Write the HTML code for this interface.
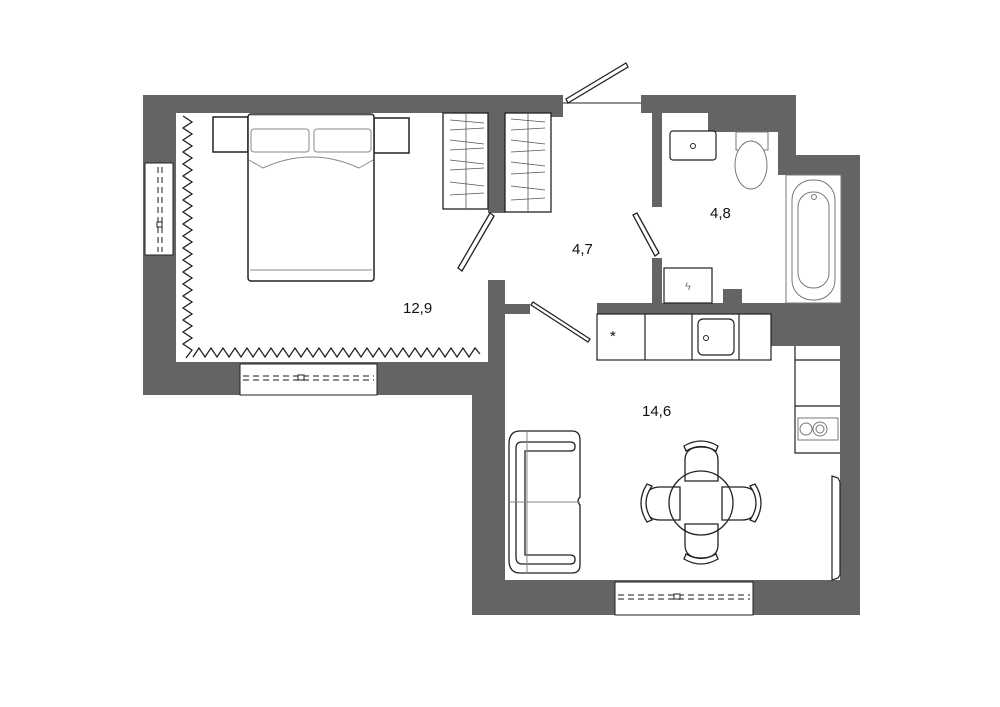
<!DOCTYPE html>
<html><head><meta charset="utf-8"><style>
html,body{margin:0;padding:0;background:#fff}
svg{display:block}
text{font-family:"Liberation Sans",sans-serif;font-size:15px;fill:#111}
</style></head><body>
<svg width="1000" height="707" viewBox="0 0 1000 707" xmlns="http://www.w3.org/2000/svg">
<g fill="#646464">
<!-- bedroom walls -->
<rect x="143" y="95" width="420" height="18"/>
<rect x="545" y="95" width="18" height="22"/>
<rect x="143" y="95" width="33" height="300"/>
<rect x="143" y="362" width="362" height="33"/>
<rect x="488" y="113" width="17" height="100"/>
<rect x="488" y="280" width="17" height="115"/>
<rect x="505" y="304" width="25" height="10"/>
<!-- living -->
<rect x="472" y="362" width="33" height="253"/>
<rect x="472" y="580" width="388" height="35"/>
<rect x="840" y="155" width="20" height="460"/>
<!-- bathroom -->
<rect x="641" y="95" width="155" height="18"/>
<rect x="708" y="113" width="88" height="19"/>
<rect x="778" y="113" width="18" height="62"/>
<rect x="778" y="155" width="82" height="20"/>
<rect x="641" y="95" width="21" height="18"/>
<rect x="652" y="113" width="10" height="94"/>
<rect x="652" y="258" width="10" height="46"/>
<rect x="597" y="303" width="244" height="11"/>
<rect x="771" y="303" width="70" height="43"/>
<rect x="723" y="289" width="19" height="15"/>
</g>
<!-- windows -->
<g fill="#fff" stroke="#222" stroke-width="1">
<rect x="145" y="163" width="28" height="92"/>
<rect x="240" y="364" width="137" height="31"/>
<rect x="615" y="582" width="138" height="33"/>
</g>
<g stroke="#666" stroke-width="1.5" stroke-dasharray="6,4">
<line x1="158" y1="167" x2="158" y2="252"/><line x1="162" y1="167" x2="162" y2="252"/>
<line x1="243" y1="376" x2="374" y2="376"/><line x1="243" y1="380" x2="374" y2="380"/>
<line x1="618" y1="595" x2="750" y2="595"/><line x1="618" y1="599" x2="750" y2="599"/>
</g>
<g fill="#fff" stroke="#222" stroke-width="1">
<rect x="157" y="222" width="5" height="5"/><rect x="298" y="375" width="6" height="5"/><rect x="674" y="594" width="6" height="5"/>
</g>
<!-- curtains -->
<g fill="none" stroke="#222" stroke-width="1.3">
<polyline points="183,116 192,122 183,128 192,134 183,140 192,146 183,152 192,158 183,164 192,170 183,176 192,182 183,188 192,194 183,200 192,206 183,212 192,218 183,224 192,230 183,236 192,242 183,248 192,254 183,260 192,266 183,272 192,278 183,284 192,290 183,296 192,302 183,308 192,314 183,320 192,326 183,332 192,338 183,344 192,350 186,358"/>
<polyline points="193,357 199,348 205,357 211,348 217,357 223,348 229,357 235,348 241,357 247,348 253,357 259,348 265,357 271,348 277,357 283,348 289,357 295,348 301,357 307,348 313,357 319,348 325,357 331,348 337,357 343,348 349,357 355,348 361,357 367,348 373,357 379,348 385,357 391,348 397,357 403,348 409,357 415,348 421,357 427,348 433,357 439,348 445,357 451,348 457,357 463,348 469,357 475,348 480,354"/>
</g>
<!-- bed -->
<g fill="#fff" stroke="#222" stroke-width="1.5">
<rect x="213" y="117" width="35" height="35"/>
<rect x="374" y="118" width="35" height="35"/>
<rect x="248" y="114" width="126" height="167" rx="3"/>
</g>
<g fill="none" stroke="#888" stroke-width="1">
<rect x="251" y="129" width="58" height="23" rx="3"/><rect x="314" y="129" width="57" height="23" rx="3"/>
<path d="M249 160 L263 168 Q311 146 359 168 L373 160"/>
<line x1="250" y1="270" x2="372" y2="270"/><line x1="250" y1="115" x2="372" y2="115"/>
</g>
<!-- wardrobes -->
<g fill="#fff" stroke="#222" stroke-width="1.3">
<rect x="443" y="113" width="45" height="96"/>
<rect x="505" y="113" width="46" height="99"/>
</g>
<g stroke="#555" stroke-width="0.8">
<line x1="450" y1="120" x2="484" y2="123"/><line x1="450" y1="130" x2="484" y2="128"/><line x1="450" y1="140" x2="484" y2="144"/><line x1="450" y1="150" x2="484" y2="148"/><line x1="450" y1="160" x2="484" y2="164"/><line x1="450" y1="170" x2="484" y2="168"/><line x1="450" y1="182" x2="484" y2="186"/><line x1="450" y1="195" x2="484" y2="193"/>
<line x1="511" y1="119" x2="545" y2="122"/><line x1="511" y1="130" x2="545" y2="128"/><line x1="511" y1="140" x2="545" y2="144"/><line x1="511" y1="152" x2="545" y2="150"/><line x1="511" y1="162" x2="545" y2="166"/><line x1="511" y1="174" x2="545" y2="172"/><line x1="511" y1="186" x2="545" y2="190"/><line x1="511" y1="200" x2="545" y2="198"/>
<line x1="466" y1="113" x2="466" y2="209"/><line x1="528" y1="113" x2="528" y2="212"/>
</g>
<!-- doors -->
<g fill="#fff" stroke="#222" stroke-width="1.3">
<polygon points="490,213 494,216 462,271 458,268"/>
<polygon points="566,99 626,63 628,67 568,103"/>
<polygon points="633,215 637,213 659,253 655,256"/>
<polygon points="531,305 533,302 590,339 588,342"/>
</g>
<line x1="563" y1="103" x2="641" y2="103" stroke="#222" stroke-width="1"/>
<!-- bathroom fixtures -->
<g fill="#fff" stroke="#222" stroke-width="1.2">
<rect x="670" y="131" width="46" height="29" rx="3"/>
<rect x="664" y="268" width="48" height="35"/>
</g>
<circle cx="693" cy="146" r="2.5" fill="none" stroke="#222"/>
<g fill="#fff" stroke="#777" stroke-width="1">
<rect x="736" y="132" width="32" height="18"/>
<ellipse cx="751" cy="165" rx="16" ry="24"/>
<rect x="786" y="175" width="55" height="128"/>
<rect x="792" y="180" width="43" height="120" rx="20"/>
<rect x="798" y="192" width="31" height="96" rx="15"/>
</g>
<circle cx="814" cy="197" r="2.5" fill="none" stroke="#777"/>
<text x="685" y="290" style="font-size:11px;fill:#777">ϟ</text>
<!-- kitchen -->
<g fill="#fff" stroke="#222" stroke-width="1.2">
<rect x="597" y="314" width="174" height="46"/>
<line x1="645" y1="314" x2="645" y2="360"/><line x1="692" y1="314" x2="692" y2="360"/><line x1="739" y1="314" x2="739" y2="360"/>
<rect x="698" y="319" width="36" height="36" rx="5"/>
<polyline points="795,346 795,453 840,453" fill="none"/>
<line x1="795" y1="406" x2="840" y2="406"/>
<line x1="795" y1="360" x2="840" y2="360"/>
</g>
<circle cx="706" cy="338" r="2.5" fill="none" stroke="#222"/>
<text x="610" y="341" style="font-size:15px">*</text>
<g fill="#fff" stroke="#777" stroke-width="1"><rect x="798" y="418" width="40" height="22"/><circle cx="806" cy="429" r="6"/><circle cx="820" cy="429" r="7"/><circle cx="820" cy="429" r="4"/></g>
<!-- radiator -->
<path d="M832 476 L838 478 L840 482 L840 575 L838 578 L832 580 Z" fill="#fff" stroke="#222" stroke-width="1.2"/>
<!-- sofa -->
<g fill="#fff" stroke="#222" stroke-width="1.3">
<path d="M520 431 H572 Q580 431 580 440 V497 Q576 501 580 505 V565 Q580 573 572 573 H520 Q509 573 509 560 V444 Q509 431 520 431 Z"/>
<path d="M522 442 H570 Q575 442 575 446 V447 Q575 451 570 451 H525 V555 H570 Q575 555 575 559 V560 Q575 564 570 564 H522 Q516 564 516 557 V448 Q516 442 522 442 Z"/>
</g>
<g stroke="#888" stroke-width="1"><line x1="509" y1="502" x2="580" y2="502"/><line x1="527" y1="431" x2="527" y2="573"/></g>
<!-- table -->
<g fill="#fff" stroke="#222" stroke-width="1.3">
<path d="M685 481 V460 Q685 447 701 447 Q718 447 718 460 V481 Z"/>
<path d="M685 524 V545 Q685 558 701 558 Q718 558 718 545 V524 Z"/>
<path d="M680 487 H660 Q645 487 645 503 Q645 520 660 520 H680 Z"/>
<path d="M722 487 H742 Q757 487 757 503 Q757 520 742 520 H722 Z"/>
<path d="M684 446 Q701 436 718 446 L716 451 Q701 442 686 451 Z"/>
<path d="M684 559 Q701 569 718 559 L716 554 Q701 563 686 554 Z"/>
<path d="M652 486 Q640 503 652 520 L647 522 Q635 503 647 484 Z"/>
<path d="M750 486 Q762 503 750 520 L755 522 Q767 503 755 484 Z"/>
</g>
<circle cx="701" cy="503" r="32" fill="none" stroke="#222" stroke-width="1.3"/>
<!-- labels -->
<text x="403" y="313">12,9</text>
<text x="572" y="254">4,7</text>
<text x="710" y="218">4,8</text>
<text x="642" y="416">14,6</text>
</svg>
</body></html>
